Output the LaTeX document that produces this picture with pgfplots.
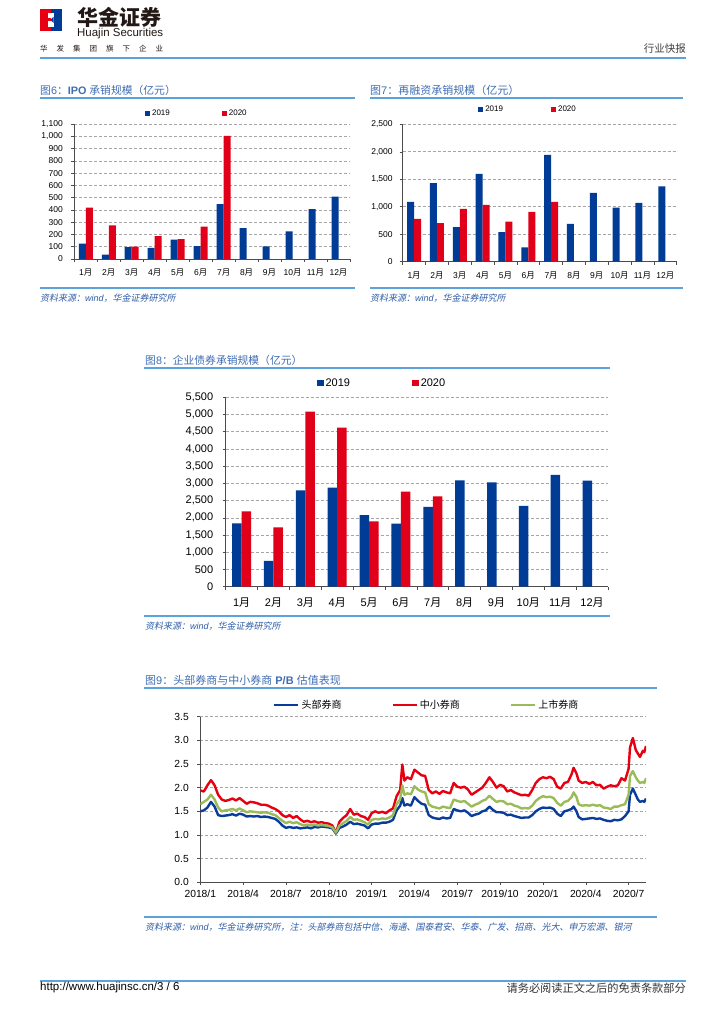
\documentclass[border=0pt]{standalone}
\usepackage{pgfplots}
\usepackage{pgfplotstable}
\pgfplotsset{compat=1.18}
\usepackage{fontspec}
\usepackage{graphicx}
\setmainfont{Liberation Sans}
\newfontfamily\cjk{Noto Sans CJK SC}
\newfontfamily\cjksl[FakeSlant=0.2]{Noto Sans CJK SC}
\newcommand\zh[1]{{\cjk #1}}
\newcommand\yue{{\cjk 月}}
\newcommand\src{{\cjksl 资料来源：}{\itshape wind}{\cjksl ，华金证券研究所}}

\definecolor{titleblue}{HTML}{3F6DB3}
\definecolor{ruleblue}{HTML}{5BA3DA}
\definecolor{srcblue}{HTML}{2E5EA8}
\definecolor{barblue}{HTML}{003B95}
\definecolor{barred}{HTML}{E1001A}
\definecolor{lnblue}{HTML}{0A3D9A}
\definecolor{lnred}{HTML}{E60012}
\definecolor{lngreen}{HTML}{9BBB59}
\definecolor{gridgray}{HTML}{A6A6A6}
\definecolor{darktext}{HTML}{231815}

% fig 6: IPO underwriting (100m yuan)
\pgfplotstableread{
m v
0 125
1 35
2 97
3 90
4 157
5 105
6 448
7 252
8 102
9 225
10 406
11 508
}\ipoA
\pgfplotstableread{
m v
0 418
1 273
2 100
3 187
4 162
5 263
6 1004
}\ipoB

% fig 7: refinancing
\pgfplotstableread{
m v
0 1090
1 1430
2 628
3 1600
4 537
5 260
6 1945
7 688
8 1252
9 984
10 1070
11 1370
}\refA
\pgfplotstableread{
m v
0 778
1 700
2 960
3 1035
4 730
5 906
6 1090
}\refB

% fig 8: corporate bonds
\pgfplotstableread{
m v
0 1840
1 750
2 2800
3 2876
4 2075
5 1832
6 2316
7 3090
8 3032
9 2345
10 3245
11 3080
}\bondA
\pgfplotstableread{
m v
0 2190
1 1726
2 5085
3 4620
4 1900
5 2762
6 2625
}\bondB

% fig 9: P/B, x = months since 2018/1
\pgfplotstableread{
m r g b
0.00 1.94 1.65 1.50
0.25 1.92 1.70 1.52
0.50 2.05 1.75 1.58
0.75 2.16 1.85 1.70
1.00 2.05 1.75 1.60
1.25 1.85 1.58 1.42
1.50 1.75 1.50 1.40
1.75 1.72 1.52 1.41
2.00 1.74 1.53 1.42
2.25 1.77 1.55 1.44
2.50 1.73 1.52 1.41
2.75 1.78 1.56 1.45
3.00 1.72 1.52 1.43
3.25 1.66 1.48 1.39
3.50 1.70 1.50 1.40
3.75 1.69 1.49 1.39
4.00 1.67 1.48 1.40
4.25 1.64 1.47 1.38
4.50 1.64 1.48 1.39
4.75 1.62 1.47 1.38
5.00 1.58 1.44 1.36
5.25 1.55 1.42 1.34
5.50 1.50 1.36 1.28
5.75 1.42 1.30 1.20
6.00 1.38 1.25 1.15
6.25 1.42 1.28 1.17
6.50 1.36 1.25 1.15
6.75 1.40 1.27 1.16
7.00 1.33 1.23 1.14
7.25 1.28 1.20 1.15
7.50 1.30 1.22 1.16
7.75 1.27 1.20 1.14
8.00 1.29 1.22 1.17
8.25 1.26 1.20 1.16
8.50 1.27 1.21 1.18
8.75 1.25 1.20 1.17
9.00 1.24 1.19 1.16
9.25 1.20 1.16 1.14
9.50 1.05 1.05 1.03
9.75 1.28 1.20 1.15
10.00 1.36 1.25 1.18
10.25 1.42 1.30 1.22
10.50 1.55 1.38 1.28
10.75 1.43 1.32 1.23
11.00 1.45 1.33 1.24
11.25 1.40 1.30 1.22
11.50 1.38 1.27 1.20
11.75 1.32 1.22 1.14
12.00 1.46 1.32 1.22
12.25 1.50 1.34 1.24
12.50 1.47 1.33 1.24
12.75 1.49 1.35 1.26
13.00 1.46 1.34 1.26
13.25 1.52 1.37 1.28
13.50 1.56 1.42 1.32
13.75 1.82 1.65 1.52
14.00 1.95 1.75 1.62
14.15 2.49 2.05 1.78
14.30 2.15 1.85 1.62
14.50 2.22 1.88 1.65
14.75 2.18 1.86 1.62
15.00 2.38 2.03 1.80
15.25 2.32 1.96 1.72
15.50 2.26 1.92 1.66
15.75 2.25 1.90 1.64
16.00 1.95 1.65 1.42
16.25 1.88 1.60 1.37
16.50 1.92 1.58 1.35
16.75 1.87 1.56 1.34
17.00 1.93 1.60 1.37
17.25 1.90 1.58 1.35
17.50 1.88 1.57 1.36
17.75 2.10 1.75 1.55
18.00 2.02 1.72 1.52
18.25 2.00 1.70 1.50
18.50 2.02 1.72 1.52
18.75 1.96 1.66 1.47
19.00 1.85 1.60 1.40
19.25 1.90 1.64 1.43
19.50 1.95 1.67 1.45
19.75 2.00 1.72 1.50
20.00 2.10 1.75 1.52
20.25 2.22 1.83 1.60
20.50 2.12 1.76 1.53
20.75 2.00 1.70 1.48
21.00 2.06 1.72 1.48
21.25 2.03 1.71 1.47
21.50 1.92 1.65 1.42
21.75 1.95 1.66 1.43
22.00 1.90 1.62 1.40
22.25 1.87 1.60 1.38
22.50 1.84 1.56 1.36
22.75 1.85 1.57 1.37
23.00 1.83 1.56 1.37
23.25 1.95 1.62 1.42
23.50 2.10 1.72 1.50
23.75 2.18 1.78 1.55
24.00 2.22 1.82 1.58
24.25 2.20 1.80 1.57
24.50 2.23 1.81 1.58
24.75 2.18 1.78 1.55
25.00 2.02 1.68 1.45
25.25 1.98 1.62 1.40
25.50 2.10 1.70 1.50
25.75 2.12 1.72 1.52
26.00 2.28 1.80 1.55
26.15 2.42 1.90 1.60
26.35 2.30 1.80 1.50
26.50 2.15 1.65 1.38
26.75 2.10 1.62 1.33
27.00 2.12 1.63 1.34
27.25 2.08 1.62 1.35
27.50 2.12 1.64 1.36
27.75 2.05 1.62 1.34
28.00 2.06 1.63 1.35
28.25 1.98 1.58 1.32
28.50 2.02 1.57 1.30
28.75 2.05 1.55 1.29
29.00 2.03 1.60 1.32
29.25 2.05 1.60 1.31
29.50 2.20 1.63 1.33
29.75 2.15 1.65 1.40
30.00 2.40 1.85 1.50
30.10 2.85 2.25 1.85
30.30 3.05 2.35 1.98
30.50 2.80 2.22 1.85
30.65 2.72 2.15 1.75
30.80 2.65 2.10 1.70
31.00 2.78 2.12 1.72
31.10 2.75 2.10 1.70
31.22 2.88 2.20 1.77
}\pbdata

\pgfplotsset{
  monthbars/.style={
    scale only axis, anchor=south west,
    ybar=0pt, enlargelimits=false,
    axis x line*=bottom, axis y line*=left,
    axis line style={draw=black!70, line width=0.5pt},
    xmin=-0.5, xmax=11.5, ymin=0,
    xtick={-0.5,0.5,...,11.5}, xticklabels={},
    extra x ticks={0,...,11},
    extra x tick labels={1\yue,2\yue,3\yue,4\yue,5\yue,6\yue,7\yue,8\yue,9\yue,10\yue,11\yue,12\yue},
    extra x tick style={major tick length=0pt, grid=none},
    tick align=outside, major tick length=3pt,
    tick style={draw=black!70, line width=0.5pt},
    ymajorgrids,
    major grid style={draw=gridgray, line width=0.6pt, dash pattern=on 3pt off 2pt},
    /pgf/number format/assume math mode=true,
    /pgf/number format/1000 sep={,},
    legend image code/.code={\fill[##1] (0pt,-2.5pt) rectangle (5pt,2.5pt);},
    legend style={draw=none, fill=none, inner sep=0pt, legend columns=2, anchor=west},
  }
}

\begin{document}
\begin{tikzpicture}
\path[use as bounding box, fill=white] (0pt,0pt) rectangle (724pt,1024pt);

% header
\fill[lnred] (40pt,993pt) rectangle (50.5pt,1015pt);
\fill[barblue] (50.5pt,993pt) rectangle (62pt,1015pt);
\fill[white] (48pt,997pt) rectangle (53.5pt,1011pt);
\fill[lnred] (48pt,1002.5pt) rectangle (50.5pt,1005.5pt);
\fill[barblue] (50.5pt,1004pt) -- (53.5pt,1007pt) -- (53.5pt,1001pt) -- cycle;
\node[anchor=west, inner sep=0pt, text=darktext] at (77pt,1006.5pt)
  {\cjk\bfseries\fontsize{21}{21}\selectfont 华金证券};
\node[anchor=west, inner sep=0pt, text=darktext] at (77pt,990.5pt)
  {\resizebox{86pt}{!}{\fontsize{11}{11}\selectfont Huajin Securities}};
\node[anchor=west, inner sep=0pt, text=darktext] at (40pt,975.5pt)
  {\cjk\fontsize{7.5}{8}\selectfont 华\hspace{9pt}发\hspace{9pt}集\hspace{9pt}团\hspace{9pt}旗\hspace{9pt}下\hspace{9pt}企\hspace{9pt}业};
\node[anchor=east, inner sep=0pt, text=black!75] at (686pt,975.5pt)
  {\cjk\fontsize{10.5}{11}\selectfont 行业快报};
\draw[ruleblue, line width=2pt] (40pt,966pt) -- (686pt,966pt);

% ---------- fig 6 ----------
\node[anchor=west, inner sep=0pt, text=titleblue, font=\fontsize{10.8}{11}\selectfont] at (40pt,934pt)
  {\zh{图}6\zh{：}\textbf{IPO} \zh{承销规模（亿元）}};
\draw[ruleblue, line width=1.2pt] (40pt,926pt) -- (355pt,926pt);
\begin{axis}[monthbars, at={(74.3pt,765pt)}, width=275.7pt, height=135pt,
  ymax=1100, ytick={0,100,...,1100}, bar width=7pt,
  tick label style={font=\fontsize{8.5}{9}\selectfont},
  yticklabel style={xshift=-5pt}, xticklabel style={yshift=-6pt},
  legend style={at={(0.256,1.081)}, font=\fontsize{8}{9}\selectfont,
    /tikz/every even column/.append style={column sep=50pt}}]
\addplot[fill=barblue, draw=none] table[x=m,y=v]{\ipoA};
\addplot[fill=barred, draw=none] table[x=m,y=v]{\ipoB};
\legend{2019,2020}
\end{axis}
\draw[ruleblue, line width=1.2pt] (40pt,736pt) -- (355pt,736pt);
\node[anchor=west, inner sep=0pt, text=srcblue, font=\fontsize{9}{10}\selectfont] at (40pt,726pt) {\src};

% ---------- fig 7 ----------
\node[anchor=west, inner sep=0pt, text=titleblue, font=\fontsize{11}{12}\selectfont] at (370pt,934pt)
  {\zh{图}7\zh{：再融资承销规模（亿元）}};
\draw[ruleblue, line width=1.2pt] (370pt,926pt) -- (683pt,926pt);
\begin{axis}[monthbars, at={(402.7pt,762.3pt)}, width=274pt, height=137.4pt,
  ymax=2500, ytick={0,500,...,2500}, bar width=7pt,
  tick label style={font=\fontsize{8.5}{9}\selectfont},
  yticklabel style={xshift=-3.5pt}, xticklabel style={yshift=-7pt},
  legend style={at={(0.275,1.109)}, font=\fontsize{8}{9}\selectfont,
    /tikz/every even column/.append style={column sep=46pt}}]
\addplot[fill=barblue, draw=none] table[x=m,y=v]{\refA};
\addplot[fill=barred, draw=none] table[x=m,y=v]{\refB};
\legend{2019,2020}
\end{axis}
\draw[ruleblue, line width=1.2pt] (370pt,736pt) -- (683pt,736pt);
\node[anchor=west, inner sep=0pt, text=srcblue, font=\fontsize{9}{10}\selectfont] at (370pt,726pt) {\src};

% ---------- fig 8 ----------
\node[anchor=west, inner sep=0pt, text=titleblue, font=\fontsize{10.8}{12}\selectfont] at (145pt,664pt)
  {\zh{图}8\zh{：企业债券承销规模（亿元）}};
\draw[ruleblue, line width=1.2pt] (144pt,656pt) -- (610pt,656pt);
\begin{axis}[monthbars, at={(225.7pt,437.3pt)}, width=382.3pt, height=189.4pt,
  ymax=5500, ytick={0,500,...,5500}, bar width=9.5pt,
  tick label style={font=\fontsize{11}{12}\selectfont},
  yticklabel style={xshift=-6pt}, xticklabel style={yshift=-7.4pt},
  legend image code/.code={\fill[#1] (0pt,-3.3pt) rectangle (6.7pt,3.3pt);},
  legend style={at={(0.238,1.0755)}, font=\fontsize{11}{12}\selectfont,
    /tikz/every even column/.append style={column sep=60pt}}]
\addplot[fill=barblue, draw=none] table[x=m,y=v]{\bondA};
\addplot[fill=barred, draw=none] table[x=m,y=v]{\bondB};
\legend{2019,2020}
\end{axis}
\draw[ruleblue, line width=1.2pt] (144pt,408pt) -- (610pt,408pt);
\node[anchor=west, inner sep=0pt, text=srcblue, font=\fontsize{9}{10}\selectfont] at (145pt,398pt) {\src};

% ---------- fig 9 ----------
\node[anchor=west, inner sep=0pt, text=titleblue, font=\fontsize{11}{12}\selectfont] at (145pt,344pt)
  {\zh{图}9\zh{：头部券商与中小券商} \textbf{P/B} \zh{估值表现}};
\draw[ruleblue, line width=1.2pt] (144pt,336pt) -- (657pt,336pt);
\begin{axis}[scale only axis, anchor=south west, at={(200.3pt,141.7pt)},
  width=445.7pt, height=165.6pt, enlargelimits=false,
  axis x line*=bottom, axis y line*=left,
  axis line style={draw=black!70, line width=0.5pt},
  xmin=0, xmax=31.22, ymin=0, ymax=3.5,
  xtick={0,3,...,30},
  xticklabels={2018/1,2018/4,2018/7,2018/10,2019/1,2019/4,2019/7,2019/10,2020/1,2020/4,2020/7},
  ytick={0,0.5,...,3.5},
  tick align=outside, major tick length=3pt,
  tick style={draw=black!70, line width=0.5pt},
  ymajorgrids,
  major grid style={draw=gridgray, line width=0.6pt, dash pattern=on 3pt off 2pt},
  /pgf/number format/assume math mode=true,
  /pgf/number format/fixed, /pgf/number format/fixed zerofill,
  /pgf/number format/precision=1,
  tick label style={font=\fontsize{10.3}{11}\selectfont},
  yticklabel style={xshift=-5pt}, xticklabel style={yshift=-1.7pt},
  legend image code/.code={\draw[#1] (0pt,0pt) -- (24pt,0pt);},
  legend style={draw=none, fill=none, inner sep=0pt, legend columns=3, anchor=west,
    at={(0.163,1.0707)}, font=\fontsize{10}{11}\selectfont,
    /tikz/every even column/.append style={column sep=48pt}}]
\addplot[lnblue, line width=2.4pt, line join=round] table[x=m,y=b]{\pbdata};
\addplot[lnred, line width=2.4pt, line join=round] table[x=m,y=r]{\pbdata};
\addplot[lngreen, line width=2.4pt, line join=round] table[x=m,y=g]{\pbdata};
\legend{\zh{头部券商},\zh{中小券商},\zh{上市券商}}
\end{axis}
\draw[ruleblue, line width=1.2pt] (144pt,107pt) -- (657pt,107pt);
\node[anchor=west, inner sep=0pt, text=srcblue, font=\fontsize{9}{10}\selectfont] at (145pt,97pt)
  {\src{\cjksl ，注：头部券商包括中信、海通、国泰君安、华泰、广发、招商、光大、申万宏源、银河}};

% footer
\draw[ruleblue, line width=2pt] (40pt,43pt) -- (686pt,43pt);
\node[anchor=west, inner sep=0pt, font=\fontsize{11.5}{12}\selectfont] at (40pt,36pt)
  {http://www.huajinsc.cn/3 / 6};
\node[anchor=east, inner sep=0pt, text=black!80] at (686pt,36pt)
  {\cjk\fontsize{11.2}{12}\selectfont 请务必阅读正文之后的免责条款部分};
\end{tikzpicture}
\end{document}
